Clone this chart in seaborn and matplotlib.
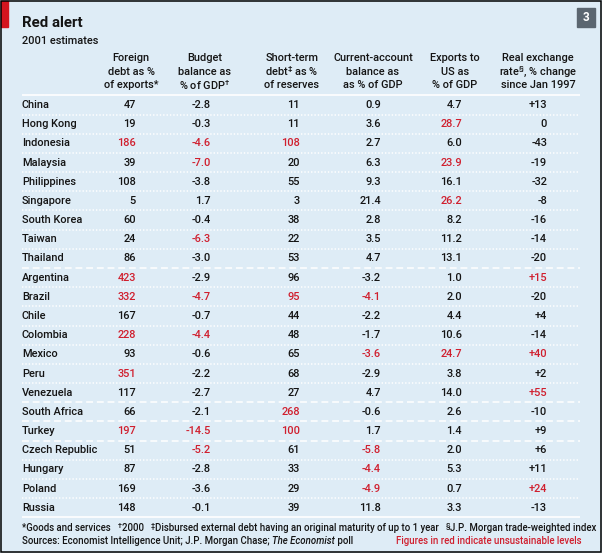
import matplotlib
matplotlib.use("Agg")
import matplotlib.pyplot as plt
from matplotlib.patches import Rectangle
import pandas as pd
import seaborn as sns

# table data
countries = ["China", "Hong Kong", "Indonesia", "Malaysia", "Philippines", "Singapore",
             "South Korea", "Taiwan", "Thailand", "Argentina", "Brazil", "Chile",
             "Colombia", "Mexico", "Peru", "Venezuela", "South Africa", "Turkey",
             "Czech Republic", "Hungary", "Poland", "Russia"]
foreign_debt = [47, 19, 186, 39, 108, 5, 60, 24, 86, 423, 332, 167, 228, 93, 351, 117,
                66, 197, 51, 87, 169, 148]
budget_balance = [-2.8, -0.3, -4.6, -7.0, -3.8, 1.7, -0.4, -6.3, -3.0, -2.9, -4.7, -0.7,
                  -4.4, -0.6, -2.2, -2.7, -2.1, -14.5, -5.2, -2.8, -3.6, -0.1]
short_term_debt = [11, 11, 108, 20, 55, 3, 38, 22, 53, 96, 95, 44, 48, 65, 68, 27,
                   268, 100, 61, 33, 29, 39]
current_account = [0.9, 3.6, 2.7, 6.3, 9.3, 21.4, 2.8, 3.5, 4.7, -3.2, -4.1, -2.2,
                   -1.7, -3.6, -2.9, 4.7, -0.6, 1.7, -5.8, -4.4, -4.9, 11.8]
exports_us = [4.7, 28.7, 6.0, 23.9, 16.1, 26.2, 8.2, 11.2, 13.1, 1.0, 2.0, 4.4,
              10.6, 24.7, 3.8, 14.0, 2.6, 1.4, 2.0, 5.3, 0.7, 3.3]
exchange_rate = [13, 0, -43, -19, -32, -8, -16, -14, -20, 15, -20, 4, -14, 40, 2, 55,
                 -10, 9, 6, 11, 24, -13]

# figures printed in red
red_foreign = ["Indonesia", "Argentina", "Brazil", "Colombia", "Peru", "Turkey"]
red_budget = ["Indonesia", "Malaysia", "Taiwan", "Brazil", "Colombia", "Turkey",
              "Czech Republic"]
red_short = ["Indonesia", "Brazil", "South Africa", "Turkey"]
red_current = ["Brazil", "Mexico", "Czech Republic", "Hungary", "Poland"]
red_exports = ["Hong Kong", "Malaysia", "Singapore", "Mexico"]
red_exchange = ["Argentina", "Mexico", "Venezuela", "Poland"]

# regional groups end here (dashed separators)
group_ends = ["Thailand", "Venezuela", "South Africa", "Turkey"]

headers = [
    ["Foreign", "debt as %", "of exports*"],
    ["Budget", "balance as", "% of GDP$^{\u2020}$"],
    ["Short-term", "debt$^{\u2021}$ as %", "of reserves"],
    ["Current-account", "balance as", "as % of GDP"],
    ["Exports to", "US as", "% of GDP"],
    ["Real exchange", "rate$^{\u00a7}$, % change", "since Jan 1997"],
]

df = pd.DataFrame({
    "foreign": foreign_debt,
    "budget": budget_balance,
    "short": short_term_debt,
    "current": current_account,
    "exports": exports_us,
    "exchange": exchange_rate,
}, index=countries)

BG = "#deecf6"
INK = "#141414"
RED = "#d01f2e"
FONT = "Roboto"
WEIGHT = "medium"

sns.set_theme(style="white")
plt.rcParams["font.family"] = [FONT, "DejaVu Sans"]
plt.rcParams["font.weight"] = WEIGHT
plt.rcParams["mathtext.fontset"] = "custom"
plt.rcParams["mathtext.rm"] = FONT + ":medium"
plt.rcParams["mathtext.it"] = FONT + ":italic"
plt.rcParams["mathtext.bf"] = FONT + ":bold"

fig = plt.figure(figsize=(6.02, 5.53), dpi=100, facecolor=BG)
ax = fig.add_axes([0, 0, 1, 1])
ax.set_facecolor(BG)
ax.set_xlim(0, 602)
ax.set_ylim(553, 0)
ax.axis("off")
renderer = fig.canvas.get_renderer()


def text_width(s, size, **kw):
    t = ax.text(0, 0, s, fontsize=size, **kw)
    w = t.get_window_extent(renderer).width
    t.remove()
    return w


# font sizes fitted to widths measured on the reference
fs = 10 * 76 / text_width("Czech Republic", 10)
title_fs = 12 * 60 / text_width("Red alert", 12, fontweight="bold")

# column layout: (column, format, red list, right edge of numbers, header centre)
cols = [
    ("foreign", "{:.0f}", red_foreign, 136, 131),
    ("budget", "{:.1f}", red_budget, 211, 205),
    ("short", "{:.0f}", red_short, 300, 292),
    ("current", "{:.1f}", red_current, 381, 373),
    ("exports", "{:.1f}", red_exports, 462, 455),
    ("exchange", "{:+.0f}", red_exchange, 547, 538),
]

row_top = 105
row_step = 19.18

# title block
ax.add_patch(Rectangle((1, 1), 7, 26, color="#d4151f", zorder=3))
ax.text(22, 23, "Red alert", fontsize=title_fs, fontweight="bold", color=INK, va="center")
ax.text(22, 40.5, "2001 estimates", fontsize=fs, color=INK, va="center")
ax.add_patch(Rectangle((577, 8), 18, 19, color="#5b6670"))
ax.text(586, 17.5, "3", fontsize=8.5, fontweight="bold", color="white",
        ha="center", va="center")

# column headers
for (key, fmt, reds, xr, xc), lines in zip(cols, headers):
    for j, line in enumerate(lines):
        ax.text(xc, 58 + j * 13.6, line, fontsize=fs, color=INK,
                ha="center", va="center")

# rows
for i, country in enumerate(df.index):
    y = row_top + i * row_step
    ax.text(22, y, country, fontsize=fs, color=INK, va="center")
    for key, fmt, reds, xr, xc in cols:
        val = df.loc[country, key]
        txt = fmt.format(val)
        if key == "exchange" and val == 0:
            txt = "0"
        ax.text(xr, y, txt, fontsize=fs, color=RED if country in reds else INK,
                ha="right", va="center")

# separators
ax.hlines(95, 22, 580, color="white", lw=1.2)
for i, country in enumerate(df.index[:-1]):
    y = row_top + (i + 0.5) * row_step
    if country in group_ends:
        ax.hlines(y, 22, 580, color="white", lw=1.1, linestyles=(0, (4.5, 2.5)))
    else:
        ax.hlines(y, 22, 580, color="white", lw=1.1, linestyles=(0, (0.9, 1.3)))
ax.hlines(row_top + (len(countries) - 0.5) * row_step, 22, 580, color="white", lw=1.2)

# footnotes
line1 = [
    ("*Goods and services   ", {}),
    ("\u2020", {"sup": True}),
    ("2000   ", {}),
    ("\u2021", {"sup": True}),
    ("Disbursed external debt having an original maturity of up to 1 year   ", {}),
    ("\u00a7", {"sup": True}),
    ("J.P. Morgan trade-weighted index", {}),
]
line2 = [
    ("Sources: Economist Intelligence Unit; J.P. Morgan Chase; ", {}),
    ("The Economist", {"style": "italic"}),
    (" poll", {}),
]


def run_text(x, y, pieces, size, draw=True):
    x0 = x
    for txt, kw in pieces:
        kw = dict(kw)
        sup = kw.pop("sup", False)
        s = size * 0.75 if sup else size
        t = ax.text(x, y - (2.5 if sup else 0), txt, fontsize=s, color=INK,
                    va="center", **kw)
        x += t.get_window_extent(renderer).width
        if not draw:
            t.remove()
    return x - x0


fn = 7.5 * 572 / run_text(0, 0, line1, 7.5, draw=False)
run_text(22, 528, line1, fn)
run_text(22, 540.5, line2, fn)
ax.text(581, 540.5, "Figures in red indicate unsustainable levels", fontsize=fn,
        color=RED, ha="right", va="center")

# outer frame
ax.add_patch(Rectangle((0.75, 0.75), 600.5, 551.5, fill=False, edgecolor="black",
                       lw=1.1, zorder=4))

fig.savefig("out.png", dpi=100, facecolor=BG)
